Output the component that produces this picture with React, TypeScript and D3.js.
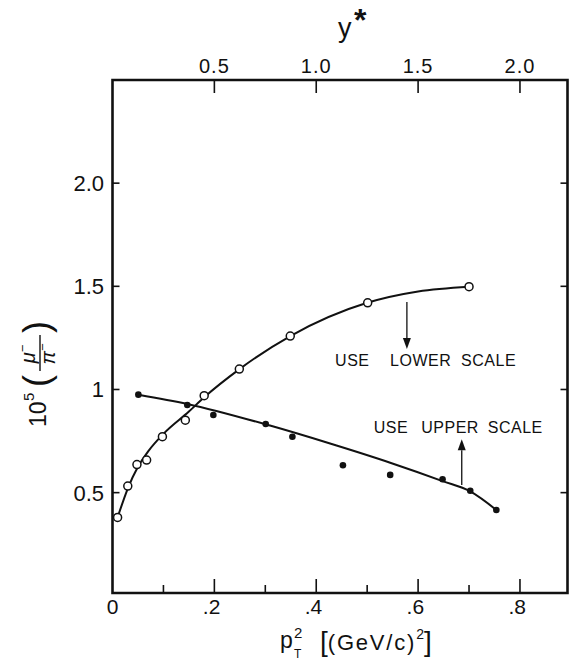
import React from 'react';
import * as d3 from 'd3';

const W = 569;
const H = 660;

// Open circles: read against the LOWER scale (pT^2)
const lowerPt2 = [0.01, 0.03, 0.048, 0.067, 0.098, 0.143, 0.18, 0.249, 0.349, 0.501, 0.70];
const lowerRatio = [0.38, 0.532, 0.636, 0.658, 0.771, 0.851, 0.97, 1.099, 1.259, 1.42, 1.498];
// Smooth hand-drawn curve through the open circles
const lowerFitPt2 = [0.01, 0.03, 0.05, 0.07, 0.10, 0.15, 0.18, 0.25, 0.35, 0.50, 0.60, 0.70];
const lowerFitRatio = [0.38, 0.52, 0.625, 0.70, 0.785, 0.893, 0.962, 1.10, 1.26, 1.42, 1.475, 1.498];

// Filled dots: read against the UPPER scale (y*)
const upperYstar = [0.127, 0.367, 0.495, 0.752, 0.883, 1.131, 1.363, 1.62, 1.756, 1.884];
const upperRatio = [0.975, 0.925, 0.876, 0.833, 0.771, 0.633, 0.586, 0.565, 0.509, 0.416];
// Smooth curve through the filled dots
const upperFitYstar = [0.127, 0.367, 0.773, 1.068, 1.363, 1.62, 1.756, 1.884];
const upperFitRatio = [0.975, 0.93, 0.825, 0.738, 0.645, 0.556, 0.506, 0.416];

const bottomMajor = [0.2, 0.4, 0.6, 0.8];
const bottomMajorLabels = ['.2', '.4', '.6', '.8'];
const bottomMinor = [0.1, 0.3, 0.5, 0.7];
const topTicks = [0.5, 1.0, 1.5, 2.0];
const topLabels = ['0.5', '1.0', '1.5', '2.0'];
const leftTicks = [0.5, 1, 1.5, 2.0];
const leftLabels = ['0.5', '1', '1.5', '2.0'];

// annotation anchors (data units)
const lowerNote = { text: ['USE', 'LOWER', 'SCALE'], x: 0.437, y: 1.112, arrowX: 0.578, from: 1.424, to: 1.196 };
const upperNote = { text: ['USE', 'UPPER', 'SCALE'], x: 0.513, y: 0.787, arrowX: 0.6857, from: 0.537, to: 0.759 };

const FONT = "'Liberation Sans', Arial, sans-serif";

export default function App() {
  const x = d3.scaleLinear().domain([0, 0.9]).range([112.5, 570.9]);
  const xTop = d3.scaleLinear().domain([0, 2.25]).range([112.5, 570.9]);
  const y = d3.scaleLinear().domain([0, 2.5]).range([595.8, 80]);

  const left = 112.5;
  const right = 567.5;
  const top = y(2.5);
  const bottom = 593;

  const lowerLine = d3
    .line<number>()
    .x((_, i) => x(lowerFitPt2[i]))
    .y((d) => y(d))
    .curve(d3.curveMonotoneX)(lowerFitRatio) as string;

  const upperLine = d3
    .line<number>()
    .x((_, i) => xTop(upperFitYstar[i]))
    .y((d) => y(d))
    .curve(d3.curveMonotoneX)(upperFitRatio) as string;

  const arrow = (ax: number, y0: number, y1: number) => {
    const dir = y1 > y0 ? 1 : -1;
    const headLen = 11;
    const hw = 4;
    const shaftEnd = y1 - dir * headLen;
    return {
      shaft: `M${ax},${y0}L${ax},${shaftEnd}`,
      head: `M${ax},${y1}L${ax - hw},${shaftEnd}L${ax + hw},${shaftEnd}Z`,
    };
  };

  const la = arrow(x(lowerNote.arrowX), y(lowerNote.from), y(lowerNote.to));
  const ua = arrow(x(upperNote.arrowX), y(upperNote.from), y(upperNote.to));

  const wordOffsetsLower = [0, 55, 126];
  const wordOffsetsUpper = [0, 47.5, 114];

  return (
    <svg
      width={W}
      height={H}
      viewBox={`0 0 ${W} ${H}`}
      style={{ position: 'absolute', left: 0, top: 0, background: '#fff' }}
      fontFamily={FONT}
    >
      <rect x={0} y={0} width={W} height={H} fill="#fff" />

      {/* frame */}
      <path
        d={`M${left},${top}L${right},${top}L${right},${bottom}L${left},${bottom}Z`}
        fill="none"
        stroke="#111"
        strokeWidth={2.6}
      />

      {/* bottom ticks */}
      {bottomMajor.map((t) => (
        <line key={'bM' + t} x1={x(t)} x2={x(t)} y1={bottom} y2={bottom - 14} stroke="#111" strokeWidth={1.6} />
      ))}
      {bottomMinor.map((t) => (
        <line key={'bm' + t} x1={x(t)} x2={x(t)} y1={bottom} y2={bottom - 8} stroke="#111" strokeWidth={1.6} />
      ))}
      <text x={x(0)} y={614} fontSize={21} textAnchor="middle" fill="#111">0</text>
      {bottomMajor.map((t, i) => (
        <text key={'bl' + t} x={x(t) + 6} y={614} fontSize={21} textAnchor="end" fill="#111">
          {bottomMajorLabels[i]}
        </text>
      ))}

      {/* top ticks */}
      {topTicks.map((t, i) => (
        <g key={'t' + t}>
          <line x1={xTop(t)} x2={xTop(t)} y1={top} y2={top + 13} stroke="#111" strokeWidth={1.6} />
          <text x={xTop(t)} y={72.5} fontSize={20} textAnchor="middle" fill="#111" letterSpacing={1}>
            {topLabels[i]}
          </text>
        </g>
      ))}

      {/* left & right ticks */}
      {leftTicks.map((t, i) => (
        <g key={'l' + t}>
          <line x1={left} x2={left + 7} y1={y(t)} y2={y(t)} stroke="#111" strokeWidth={1.6} />
          <line x1={right} x2={right - 7} y1={y(t)} y2={y(t)} stroke="#111" strokeWidth={1.6} />
          <text x={104} y={y(t) + 8} fontSize={22} textAnchor="end" fill="#111">
            {leftLabels[i]}
          </text>
        </g>
      ))}

      {/* curves */}
      <path d={lowerLine} fill="none" stroke="#111" strokeWidth={2} />
      <path d={upperLine} fill="none" stroke="#111" strokeWidth={2} />

      {/* filled dots */}
      {upperYstar.map((v, i) => (
        <circle key={'u' + i} cx={xTop(v)} cy={y(upperRatio[i])} r={3.3} fill="#111" />
      ))}
      {/* open circles */}
      {lowerPt2.map((v, i) => (
        <circle key={'o' + i} cx={x(v)} cy={y(lowerRatio[i])} r={4} fill="#fff" stroke="#111" strokeWidth={1.5} />
      ))}

      {/* annotations */}
      <path d={la.shaft} stroke="#111" strokeWidth={1.3} fill="none" />
      <path d={la.head} fill="#111" />
      <text y={y(lowerNote.y)} fontSize={16} fill="#111" letterSpacing={0.5}>
        {lowerNote.text.map((w, i) => (
          <tspan key={w} x={x(lowerNote.x) + wordOffsetsLower[i]}>{w}</tspan>
        ))}
      </text>
      <path d={ua.shaft} stroke="#111" strokeWidth={1.3} fill="none" />
      <path d={ua.head} fill="#111" />
      <text y={y(upperNote.y)} fontSize={16} fill="#111" letterSpacing={0.5}>
        {upperNote.text.map((w, i) => (
          <tspan key={w + i} x={x(upperNote.x) + wordOffsetsUpper[i]}>{w}</tspan>
        ))}
      </text>

      {/* top title y* */}
      <text x={338} y={37} fontSize={27} fill="#111">y</text>
      <text x={354} y={31} fontSize={32} fontWeight="bold" fill="#111">*</text>

      {/* bottom title */}
      <text x={280} y={648} fontSize={23} fill="#111">p</text>
      <text x={294} y={638} fontSize={15} fill="#111">2</text>
      <text x={294} y={658} fontSize={12} fill="#111">T</text>
      <text x={320} y={651} fill="#111">
        <tspan fontSize={28}>[</tspan>
        <tspan fontSize={22} dy={-1} letterSpacing={1.8}>(GeV/c)</tspan>
        <tspan fontSize={14} dy={-11}>2</tspan>
        <tspan fontSize={28} dy={12}>]</tspan>
      </text>

      {/* left title 10^5 (mu-/pi-) */}
      <g transform="translate(46,427) rotate(-90)" fill="#111">
        <text x={0} y={0} fontSize={23}>10</text>
        <text x={26} y={-12} fontSize={15}>5</text>
        <text x={40} y={3} fontSize={36}>(</text>
        <text x={73} y={-11} fontSize={20} textAnchor="middle" fontStyle="italic">
          μ<tspan dy={-8} fontSize={13}>−</tspan>
        </text>
        <line x1={56} x2={92} y1={-6} y2={-6} stroke="#111" strokeWidth={1.4} />
        <text x={73} y={9} fontSize={20} textAnchor="middle" fontStyle="italic">
          π<tspan dy={-8} fontSize={13}>−</tspan>
        </text>
        <text x={94} y={3} fontSize={36}>)</text>
      </g>
    </svg>
  );
}
